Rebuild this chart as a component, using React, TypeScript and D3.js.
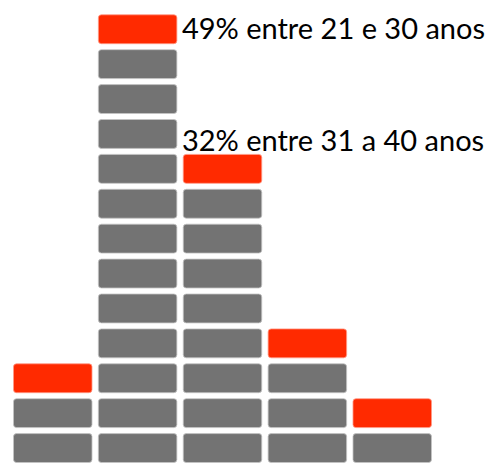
import React from 'react';
import * as d3 from 'd3';

// age groups and how many blocks each column gets (top block is red)
const categories = ['até 20', '21-30', '31-40', '41-50', '50+'];
const blockCounts = [3, 13, 9, 4, 2];

// text labels next to the two tallest columns
const labelColumns = ['21-30', '31-40'];
const labelTexts = ['49% entre 21 e 30 anos', '32% entre 31 a 40 anos'];

const width = 495;
const height = 470;

export default function App() {
  const x = d3.scaleBand<string>()
    .domain(categories)
    .range([13.5, 431.5])
    .paddingInner(0.075)
    .paddingOuter(0);

  const maxRows = d3.max(blockCounts) as number;
  // row index -> y position (row 0 at bottom)
  const y = d3.scaleLinear()
    .domain([0, maxRows])
    .range([462.5, 462.5 - maxRows * 34.9]);
  const gap = 6;

  const blocks: { key: string; x: number; y: number; h: number; red: boolean }[] = [];
  categories.forEach((c, ci) => {
    d3.range(blockCounts[ci]).forEach((r) => {
      blocks.push({
        key: c + '-' + r,
        x: x(c) as number,
        y: y(r + 1) + gap,
        h: y(r) - y(r + 1) - gap,
        red: r === blockCounts[ci] - 1,
      });
    });
  });

  return (
    <svg width={width} height={height} style={{ position: 'absolute', left: 0, top: 0 }}>
      <rect width={width} height={height} fill="#fff" />
      {blocks.map((b) => (
        <rect
          key={b.key}
          x={b.x}
          y={b.y}
          width={x.bandwidth()}
          height={b.h}
          rx={3}
          fill={b.red ? '#ff2a00' : '#737373'}
          stroke={b.red ? '#ff9a88' : '#c4c4c4'}
          strokeWidth={0.8}
        />
      ))}
      {labelTexts.map((t, i) => {
        const ci = categories.indexOf(labelColumns[i]);
        // both labels start right of the tallest column
        const tx = (x(categories[1]) as number) + x.bandwidth() + 5;
        // first label sits beside the top block, second just above its column
        const ty = i === 0 ? y(blockCounts[ci] - 1) - 5 : y(blockCounts[ci]) + 2.3;
        return (
          <text
            key={t}
            x={tx}
            y={ty}
            fontFamily="Lato, sans-serif"
            fontSize={29}
            fill="#000"
          >
            {t}
          </text>
        );
      })}
    </svg>
  );
}
